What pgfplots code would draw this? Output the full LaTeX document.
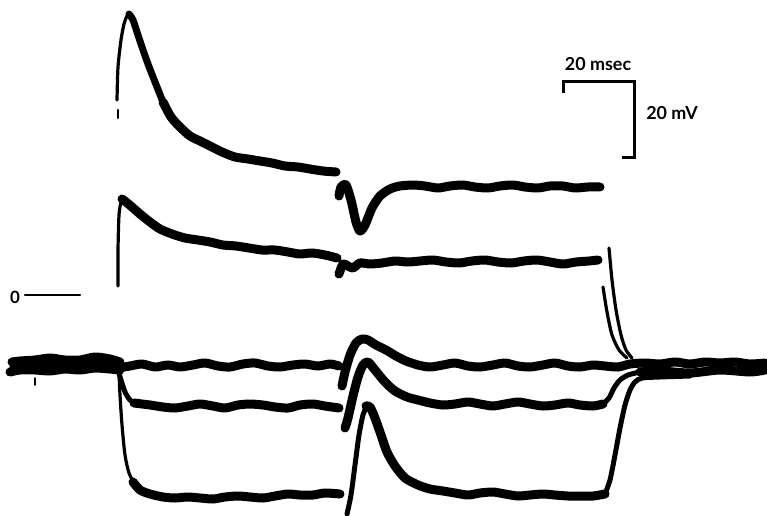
\documentclass[border=0pt]{standalone}
\usepackage{pgfplots}
\pgfplotsset{compat=1.18}
\usepackage{fontspec}
\setmainfont{Lato}
\begin{document}
\begin{tikzpicture}
\begin{axis}[
  width=767bp, height=516bp, scale only axis,
  xmin=0, xmax=767, ymin=0, ymax=516, y dir=reverse,
  axis lines=none, clip=false,
  every axis plot/.append style={black, line cap=round, line join=round, mark=none},
]
\pgfplotsset{thick trace/.style={line width=9bp, smooth, tension=0.45},
             thin trace/.style={line width=3.2bp, smooth, tension=0.45},
             mid trace/.style={line width=5bp, smooth, tension=0.45}}
\coordinate (bl) at (axis cs:0,516);
\coordinate (tr) at (axis cs:767,0);
% ---- trace 1 ----
\addplot[line width=2.5bp] coordinates {(118,110) (118,118)};
\addplot[thin trace] coordinates {(117,100) (118,67) (121,40) (124,24) (127,16) (130,14)};
\addplot[line width=7bp, smooth, tension=0.45] coordinates {(129,14) (133,20) (137,32) (142,47) (148,64) (155,82) (163,102)};
\addplot[thick trace] coordinates {(163,102) (171,117) (180,127) (190,136) (200,141) (210,146) (222,152) (235,157) (248,159) (260,161) (272,163) (285,166) (298,167) (310,169) (323,171) (336,172)};
\addplot[thick trace] coordinates {(339,196) (341,187) (346,185) (351,200) (356,222) (360,231) (365,225) (372,208) (380,196) (390,189) (400,186) (413,185) (425,186) (438,188) (450,186) (463,185) (475,187) (488,188) (500,186) (513,185) (525,187) (538,188) (550,186) (563,186) (575,188) (588,187) (600,187)};
% ---- trace 2 ----
\addplot[thin trace] coordinates {(118,286) (118,250) (119,215) (121,202) (123,199)};
\addplot[thick trace] coordinates {(122,199) (126,202) (132,207) (140,214) (150,222) (160,229) (172,234) (185,238) (198,240) (210,242) (223,245) (236,246) (249,248) (262,250) (275,250) (288,252) (300,254) (312,253) (325,255) (337,258)};
\addplot[thick trace] coordinates {(339,274) (343,264) (348,266) (353,268) (360,263) (370,264) (382,263) (395,261) (408,262) (420,261) (433,260) (446,262) (459,263) (472,261) (485,260) (498,262) (511,263) (524,261) (537,260) (550,262) (563,264) (576,262) (589,261) (598,260)};
\addplot[thin trace] coordinates {(609,248) (612,280) (616,310) (621,335) (626,350) (632,358)};
\addplot[thin trace] coordinates {(603,287) (607,312) (612,335) (619,350) (627,358)};
% ---- baseline before step ----
\addplot[thick trace] coordinates {(12,362) (20,361) (35,360) (50,358) (65,360) (80,360) (95,357) (110,359) (120,362)};
\addplot[thick trace] coordinates {(10,372) (20,370) (35,370) (50,371) (65,369) (80,370) (95,368) (110,369) (120,370)};
\addplot[thick trace] coordinates {(14,367) (30,366) (45,364) (60,366) (80,364) (100,365) (120,366)};
\addplot[line width=1.5bp] coordinates {(35,378) (35,385)};
% ---- trace 3 ----
\addplot[thick trace] coordinates {(118,368) (130,366) (142,364) (155,367) (168,365) (180,367) (193,365) (205,363) (218,366) (230,367) (243,364) (255,363) (268,366) (280,367) (293,365) (305,364) (318,366) (330,364) (339,366)};
\addplot[thick trace] coordinates {(342,386) (345,372) (350,355) (356,343) (362,339) (368,340) (376,345) (386,350) (396,356) (406,361) (418,365) (430,367) (443,365) (455,363) (468,366) (480,367) (493,365) (505,363) (518,366) (530,367) (543,365) (555,363) (568,366) (580,367) (593,365) (605,366) (618,367) (630,364) (645,363) (660,364) (675,362) (690,364) (705,362) (720,363) (735,362) (750,364) (765,363)};
% ---- trace 4 ----
\addplot[mid trace] coordinates {(118,370) (121,380) (125,392) (130,400) (136,404)};
\addplot[thick trace] coordinates {(134,403) (150,405) (163,407) (175,408) (188,406) (200,404) (213,406) (225,408) (238,405) (250,404) (263,405) (275,407) (288,408) (300,405) (313,404) (325,406) (339,408)};
\addplot[thick trace] coordinates {(345,428) (348,418) (353,396) (358,377) (363,365) (368,362) (375,370) (385,382) (395,391) (407,397) (418,400) (430,403) (443,405) (455,404) (468,402) (480,404) (493,406) (505,404) (518,402) (530,404) (543,406) (555,405) (568,403) (580,405) (593,406) (603,404)};
\addplot[mid trace] coordinates {(603,404) (609,398) (614,388) (620,380) (628,375) (640,372)};
\addplot[thick trace] coordinates {(640,372) (660,371) (690,373) (720,370) (750,372) (765,370)};
% ---- trace 5 ----
\addplot[thin trace] coordinates {(119,372) (120,395) (122,425) (125,455) (129,473) (135,485)};
\addplot[thick trace] coordinates {(133,482) (140,490) (150,494) (163,497) (175,498) (188,497) (200,498) (213,499) (225,497) (238,496) (250,497) (263,498) (275,496) (288,494) (300,495) (313,495) (325,493) (340,494)};
\addplot[mid trace] coordinates {(347,514) (351,495) (355,465) (359,435) (363,415) (367,406)};
\addplot[thick trace] coordinates {(366,406) (370,407) (375,418) (381,435) (387,452) (395,466) (405,478) (418,485) (430,489) (443,491) (455,493) (468,495) (480,493) (493,492) (505,494) (518,496) (530,495) (543,494) (555,495) (568,496) (580,496) (593,496) (605,494)};
\addplot[mid trace] coordinates {(605,494) (610,480) (615,455) (620,428) (625,405) (630,390) (635,382) (642,378) (660,377) (690,376)};
% ---- zero marker ----
\addplot[line width=2.5bp] coordinates {(25,295) (80,295)};
\node[font=\fontsize{17}{19}\selectfont\bfseries] at (axis cs:15,297) {0};
% ---- scale bar ----
\addplot[line width=3bp, line cap=butt, line join=miter] coordinates {(563,93) (563,82) (634,82) (634,157) (622,157)};
\node[font=\fontsize{18}{20}\selectfont\bfseries] at (axis cs:598,64) {20 msec};
\node[font=\fontsize{18}{20}\selectfont\bfseries] at (axis cs:672,113) {20 mV};
\end{axis}
\pgfresetboundingbox
\path (bl) rectangle (tr);
\end{tikzpicture}
\end{document}
